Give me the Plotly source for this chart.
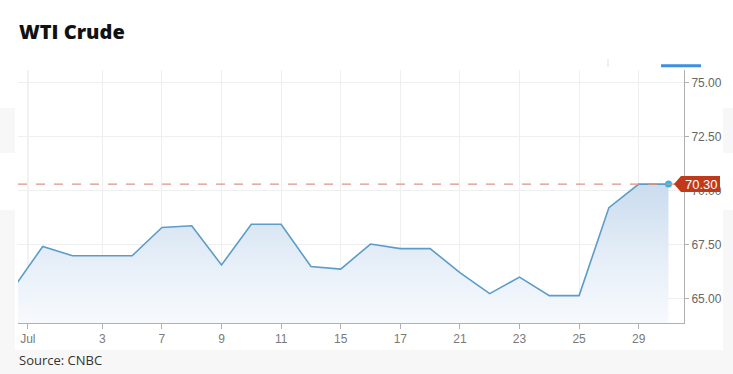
import plotly.graph_objects as go

# Trading days shown (first point is partially clipped at the left edge)
dates = ["Jun 30", "Jul 1", "Jul 2", "Jul 3", "Jul 4", "Jul 7", "Jul 8", "Jul 9", "Jul 10",
         "Jul 11", "Jul 14", "Jul 15", "Jul 16", "Jul 17", "Jul 18", "Jul 21", "Jul 22",
         "Jul 23", "Jul 24", "Jul 25", "Jul 28", "Jul 29", "Jul 30"]
prices = [65.45, 67.41, 66.98, 66.98, 66.98, 68.29, 68.37, 66.55, 68.44,
          68.44, 66.48, 66.36, 67.52, 67.31, 67.31, 66.20, 65.22,
          65.99, 65.13, 65.13, 69.21, 70.30, 70.30]
last_price = 70.30

tick_pos = [0.5, 3, 5, 7, 9, 11, 13, 15, 17, 19, 21]
tick_text = ["Jul", "3", "7", "9", "11", "15", "17", "21", "23", "25", "29"]
y_ticks = [65, 67.5, 70, 72.5, 75]
y_tick_text = ["65.00", "67.50", "70.00", "72.50", "75.00"]

x = list(range(len(dates)))
y_lo, y_hi = 63.86, 75.59

fig = go.Figure()
fig.add_trace(go.Scatter(
    x=x, y=prices, mode="lines",
    line=dict(color="#5b9cc9", width=1.6),
    fill="tozeroy",
    fillgradient=dict(type="vertical", start=y_lo, stop=last_price,
                      colorscale=[[0, "rgba(247,250,253,1)"], [0.5, "rgba(228,237,247,1)"],
                                  [1, "rgba(202,220,238,1)"]]),
    hoverinfo="skip", showlegend=False,
))
fig.add_trace(go.Scatter(
    x=[x[-1]], y=[prices[-1]], mode="markers",
    marker=dict(color="#29b6f6", size=7), showlegend=False, hoverinfo="skip",
))

W, H = 733, 374
L, R, T, B = 18, 49, 70, 51
pw, ph = W - L - R, H - T - B

def px(v):
    return (v - L) / pw

def py(v):
    return (H - B - v) / ph

shapes = []
# faint gray background patches
for (x0, y0, x1, y1) in [(0, 108, 15, 153), (0, 210, 15, 350), (723, 108, 733, 153),
                         (723, 210, 733, 350), (0, 350, 733, 374)]:
    shapes.append(dict(type="rect", xref="paper", yref="paper", x0=px(x0), x1=px(x1),
                       y0=py(y1), y1=py(y0), fillcolor="#f7f7f7", line=dict(width=0),
                       layer="below"))
# month separator
shapes.append(dict(type="line", xref="x", yref="paper", x0=0.5, x1=0.5, y0=0, y1=1,
                   line=dict(color="#dcdcdc", width=1), layer="below"))
# last-price dashed line
shapes.append(dict(type="line", xref="paper", yref="y", x0=0, x1=1, y0=last_price, y1=last_price,
                   line=dict(color="#db9482", width=1.3, dash="dash")))
# price tag
shapes.append(dict(type="path", xref="paper", yref="y", xsizemode="pixel", ysizemode="pixel",
                   xanchor=1, yanchor=last_price,
                   path="M -10,0 L -3,8 L 36,8 L 36,-8 L -3,-8 Z",
                   fillcolor="#c0391b", line=dict(width=0)))
# decorative top marks
shapes.append(dict(type="line", xref="paper", yref="paper", x0=px(661), x1=px(701),
                   y0=py(65.7), y1=py(65.7), line=dict(color="#3d8fe0", width=3)))
shapes.append(dict(type="line", xref="paper", yref="paper", x0=px(608), x1=px(608),
                   y0=py(59), y1=py(67), line=dict(color="#e0e0e0", width=1)))

fig.update_layout(
    width=W, height=H,
    margin=dict(l=L, r=R, t=T, b=B),
    paper_bgcolor="white", plot_bgcolor="white",
    shapes=shapes,
    xaxis=dict(range=[0.17, 22.52], tickvals=tick_pos, ticktext=tick_text,
               showgrid=True, gridcolor="#efefef", gridwidth=1,
               showline=True, linecolor="#b0b0b0", linewidth=1,
               ticks="outside", ticklen=5, tickcolor="#b0b0b0",
               tickfont=dict(family="Liberation Sans, Arial", size=12, color="#7a7a7a"),
               zeroline=False, fixedrange=True),
    yaxis=dict(range=[y_lo, y_hi], side="right", tickvals=y_ticks, ticktext=y_tick_text,
               showgrid=True, gridcolor="#efefef", gridwidth=1,
               showline=True, linecolor="#b0b0b0", linewidth=1,
               ticks="outside", ticklen=4, tickcolor="#b0b0b0",
               tickfont=dict(family="Liberation Sans, Arial", size=12, color="#666"),
               zeroline=False, fixedrange=True),
    annotations=[
        dict(text="WTI Crude", xref="paper", yref="paper", x=px(17), y=py(32),
             xanchor="left", yanchor="middle", showarrow=False,
             font=dict(family="Open Sans", size=20, color="#111", weight=800)),
        dict(text="Source: CNBC", xref="paper", yref="paper", x=px(17), y=py(360),
             xanchor="left", yanchor="middle", showarrow=False,
             font=dict(family="Open Sans", size=13, color="#333")),
        dict(text="70.30", xref="paper", yref="y", x=1, y=last_price, xshift=17,
             xanchor="center", yanchor="middle", showarrow=False,
             font=dict(family="Liberation Sans, Arial", size=13, color="white")),
    ],
)

fig.write_html("out.html")
